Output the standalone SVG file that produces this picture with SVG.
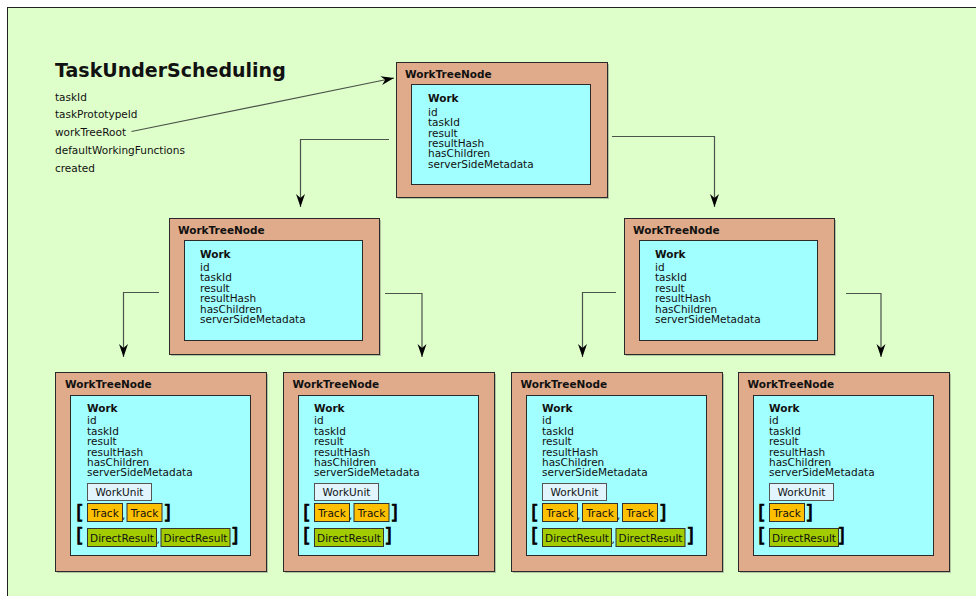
<svg xmlns="http://www.w3.org/2000/svg" width="976" height="596" viewBox="0 0 976 596">
<style>
text{font-family:"DejaVu Sans","Verdana",sans-serif;fill:#111;}
.f{font-size:10.5px;}
.b{font-size:10.5px;font-weight:bold;}
.h{font-size:19px;font-weight:bold;}
.br{font-size:20px;fill:#000;stroke:#000;stroke-width:0.7;}
.outer{fill:#dfab8b;stroke:#2a2a2a;stroke-width:1;}
.inner{fill:#a2ffff;stroke:#2a2a2a;stroke-width:1;}
.sh{fill:#555;opacity:.35;}
.wu{fill:#e2f5ff;stroke:#555;stroke-width:1;}
.tr{fill:#ffc000;stroke:#333;stroke-width:1;}
.dr{fill:#a2cc00;stroke:#333;stroke-width:1;}
.c{text-anchor:middle;}
.e{text-anchor:end;}
.conn{fill:none;stroke:#4a544a;stroke-width:1.2;}
</style>
<defs>
<marker id="arr" viewBox="-14 -5 15 10" refX="0" refY="0" markerWidth="15" markerHeight="10" markerUnits="userSpaceOnUse" orient="auto">
<path d="M0,0 L-13,-4.5 L-9,0 L-13,4.5 Z" fill="#000"/>
</marker>
</defs>
<rect x="0" y="0" width="976" height="596" fill="#fff"/>
<rect x="7.5" y="7.5" width="980" height="600" fill="#dfffca" stroke="#222" stroke-width="1"/>

<g id="task">
<text class="h" x="55" y="76.5">TaskUnderScheduling</text>
<text class="f" x="55" y="100.5">taskId</text>
<text class="f" x="55" y="118.3">taskPrototypeId</text>
<text class="f" x="55" y="136">workTreeRoot</text>
<text class="f" x="55" y="153.8">defaultWorkingFunctions</text>
<text class="f" x="55" y="171.5">created</text>
</g>

<g id="connectors">
<path class="conn" d="M131.5,131.5 L394,78" marker-end="url(#arr)"/>
<path class="conn" d="M389,139.5 H300.5 V207" marker-end="url(#arr)"/>
<path class="conn" d="M612,136.5 H714.5 V207" marker-end="url(#arr)"/>
<path class="conn" d="M159,292.5 H123.5 V357" marker-end="url(#arr)"/>
<path class="conn" d="M385,293.5 H422 V357" marker-end="url(#arr)"/>
<path class="conn" d="M616,292.5 H582.5 V357" marker-end="url(#arr)"/>
<path class="conn" d="M846,293.5 H881 V357" marker-end="url(#arr)"/>
</g>

<g id="node-root">
<rect class="sh" x="398" y="64" width="211" height="135"/>
<rect class="outer" x="396.5" y="62.5" width="211" height="135"/>
<rect class="inner" x="411.5" y="84.5" width="179" height="100"/>
<text class="b" x="405" y="77.7">WorkTreeNode</text>
<text class="b" x="428" y="101.7">Work</text>
<text class="f" x="428" y="115.7">id</text>
<text class="f" x="428" y="126.1">taskId</text>
<text class="f" x="428" y="136.5">result</text>
<text class="f" x="428" y="146.9">resultHash</text>
<text class="f" x="428" y="157.3">hasChildren</text>
<text class="f" x="428" y="167.7">serverSideMetadata</text>
</g>

<g id="node-l2-left">
<rect class="sh" x="171" y="220" width="210" height="136"/>
<rect class="outer" x="169.5" y="218.5" width="210" height="136"/>
<rect class="inner" x="184.5" y="240.5" width="178" height="100"/>
<text class="b" x="178" y="233.5">WorkTreeNode</text>
<text class="b" x="200" y="257.7">Work</text>
<text class="f" x="200" y="271">id</text>
<text class="f" x="200" y="281.4">taskId</text>
<text class="f" x="200" y="291.8">result</text>
<text class="f" x="200" y="302.2">resultHash</text>
<text class="f" x="200" y="312.6">hasChildren</text>
<text class="f" x="200" y="323">serverSideMetadata</text>
</g>

<g id="node-l2-right">
<rect class="sh" x="626" y="220" width="210" height="136"/>
<rect class="outer" x="624.5" y="218.5" width="210" height="136"/>
<rect class="inner" x="639.5" y="240.5" width="178" height="100"/>
<text class="b" x="633" y="233.5">WorkTreeNode</text>
<text class="b" x="655" y="257.7">Work</text>
<text class="f" x="655" y="271">id</text>
<text class="f" x="655" y="281.4">taskId</text>
<text class="f" x="655" y="291.8">result</text>
<text class="f" x="655" y="302.2">resultHash</text>
<text class="f" x="655" y="312.6">hasChildren</text>
<text class="f" x="655" y="323">serverSideMetadata</text>
</g>

<g id="node-l3-1">
<rect class="sh" x="57" y="374" width="211" height="199"/>
<rect class="outer" x="55.5" y="372.5" width="211" height="199"/>
<rect class="inner" x="70.5" y="395.5" width="180" height="160"/>
<text class="b" x="65" y="388.3">WorkTreeNode</text>
<text class="b" x="87" y="412.3">Work</text>
<text class="f" x="87" y="424.3">id</text>
<text class="f" x="87" y="434.7">taskId</text>
<text class="f" x="87" y="445.1">result</text>
<text class="f" x="87" y="455.5">resultHash</text>
<text class="f" x="87" y="465.9">hasChildren</text>
<text class="f" x="87" y="476.3">serverSideMetadata</text>
<rect class="wu" x="87.5" y="483.5" width="64" height="17"/>
<text class="f c" x="119.5" y="496">WorkUnit</text>
<text class="br" x="76" y="518.8">[</text>
<rect class="tr" x="87.5" y="503.5" width="35" height="18"/>
<text class="f c" x="105" y="516.5">Track</text>
<text class="f" x="122" y="519">,</text>
<rect class="tr" x="127" y="503.5" width="35" height="18"/>
<text class="f c" x="144.5" y="516.5">Track</text>
<text class="br e" x="171" y="518.8">]</text>
<text class="br" x="76" y="542">[</text>
<rect class="dr" x="87.5" y="528.5" width="69" height="18"/>
<text class="f c" x="122" y="541.5">DirectResult</text>
<text class="f" x="156.5" y="543">,</text>
<rect class="dr" x="161" y="528.5" width="69" height="18"/>
<text class="f c" x="195.5" y="541.5">DirectResult</text>
<text class="br e" x="238.5" y="542">]</text>
</g>

<g id="node-l3-2">
<rect class="sh" x="285" y="374" width="211" height="199"/>
<rect class="outer" x="283.5" y="372.5" width="211" height="199"/>
<rect class="inner" x="298.5" y="395.5" width="180" height="160"/>
<text class="b" x="292.5" y="388.3">WorkTreeNode</text>
<text class="b" x="314" y="412.3">Work</text>
<text class="f" x="314" y="424.3">id</text>
<text class="f" x="314" y="434.7">taskId</text>
<text class="f" x="314" y="445.1">result</text>
<text class="f" x="314" y="455.5">resultHash</text>
<text class="f" x="314" y="465.9">hasChildren</text>
<text class="f" x="314" y="476.3">serverSideMetadata</text>
<rect class="wu" x="314.5" y="483.5" width="64" height="17"/>
<text class="f c" x="346.5" y="496">WorkUnit</text>
<text class="br" x="303" y="518.8">[</text>
<rect class="tr" x="314.5" y="503.5" width="35" height="18"/>
<text class="f c" x="332" y="516.5">Track</text>
<text class="f" x="349" y="519">,</text>
<rect class="tr" x="354" y="503.5" width="35" height="18"/>
<text class="f c" x="371.5" y="516.5">Track</text>
<text class="br e" x="398" y="518.8">]</text>
<text class="br" x="303" y="542">[</text>
<rect class="dr" x="314.5" y="528.5" width="69" height="18"/>
<text class="f c" x="349" y="541.5">DirectResult</text>
<text class="br e" x="392" y="542">]</text>
</g>

<g id="node-l3-3">
<rect class="sh" x="513" y="374" width="211" height="199"/>
<rect class="outer" x="511.5" y="372.5" width="211" height="199"/>
<rect class="inner" x="526.5" y="395.5" width="180" height="160"/>
<text class="b" x="520.5" y="388.3">WorkTreeNode</text>
<text class="b" x="542" y="412.3">Work</text>
<text class="f" x="542" y="424.3">id</text>
<text class="f" x="542" y="434.7">taskId</text>
<text class="f" x="542" y="445.1">result</text>
<text class="f" x="542" y="455.5">resultHash</text>
<text class="f" x="542" y="465.9">hasChildren</text>
<text class="f" x="542" y="476.3">serverSideMetadata</text>
<rect class="wu" x="542.5" y="483.5" width="64" height="17"/>
<text class="f c" x="574.5" y="496">WorkUnit</text>
<text class="br" x="531" y="518.8">[</text>
<rect class="tr" x="542.5" y="503.5" width="35" height="18"/>
<text class="f c" x="560" y="516.5">Track</text>
<text class="f" x="577" y="519">,</text>
<rect class="tr" x="582.5" y="503.5" width="35" height="18"/>
<text class="f c" x="600" y="516.5">Track</text>
<text class="f" x="617" y="519">,</text>
<rect class="tr" x="622.5" y="503.5" width="35" height="18"/>
<text class="f c" x="640" y="516.5">Track</text>
<text class="br e" x="666.5" y="518.8">]</text>
<text class="br" x="531" y="542">[</text>
<rect class="dr" x="542.5" y="528.5" width="69" height="18"/>
<text class="f c" x="577" y="541.5">DirectResult</text>
<text class="f" x="611.5" y="543">,</text>
<rect class="dr" x="616" y="528.5" width="69" height="18"/>
<text class="f c" x="650.5" y="541.5">DirectResult</text>
<text class="br e" x="694" y="542">]</text>
</g>

<g id="node-l3-4">
<rect class="sh" x="740" y="374" width="211" height="199"/>
<rect class="outer" x="738.5" y="372.5" width="211" height="199"/>
<rect class="inner" x="753.5" y="395.5" width="180" height="160"/>
<text class="b" x="747.5" y="388.3">WorkTreeNode</text>
<text class="b" x="769" y="412.3">Work</text>
<text class="f" x="769" y="424.3">id</text>
<text class="f" x="769" y="434.7">taskId</text>
<text class="f" x="769" y="445.1">result</text>
<text class="f" x="769" y="455.5">resultHash</text>
<text class="f" x="769" y="465.9">hasChildren</text>
<text class="f" x="769" y="476.3">serverSideMetadata</text>
<rect class="wu" x="769.5" y="483.5" width="64" height="17"/>
<text class="f c" x="801.5" y="496">WorkUnit</text>
<text class="br" x="758" y="518.8">[</text>
<rect class="tr" x="769.5" y="503.5" width="35" height="18"/>
<text class="f c" x="787" y="516.5">Track</text>
<text class="br e" x="813" y="518.8">]</text>
<text class="br" x="758" y="542">[</text>
<rect class="dr" x="769.5" y="528.5" width="69" height="18"/>
<text class="f c" x="804" y="541.5">DirectResult</text>
<text class="br e" x="845" y="542">]</text>
</g>
</svg>
